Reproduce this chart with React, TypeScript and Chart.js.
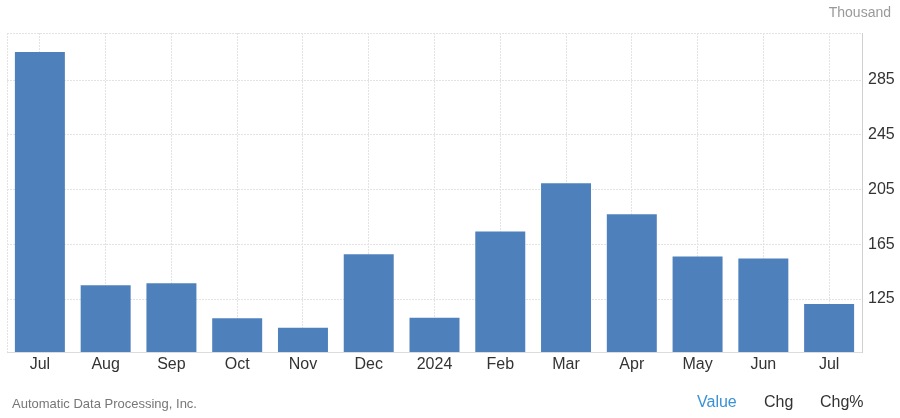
import React, { useEffect, useRef } from "react";
import { Chart, registerables } from "chart.js";

Chart.register(...registerables);

const categories = ["Jul", "Aug", "Sep", "Oct", "Nov", "Dec", "2024", "Feb", "Mar", "Apr", "May", "Jun", "Jul"];
const values = [305.5, 135, 136.5, 111, 104, 157.8, 111.4, 174.3, 209.7, 187, 156.1, 154.6, 121.4];
const yTicks = [125, 165, 205, 245, 285];
const yMin = 86.3;
const yMax = 319.4;

const gridColor = "#e3e3e3";

const edgePlugin = {
  id: "edgeLines",
  beforeDatasetsDraw(chart: any) {
    const { ctx, chartArea } = chart;
    ctx.save();
    ctx.strokeStyle = gridColor;
    ctx.lineWidth = 1;
    ctx.setLineDash([2, 1]);
    ctx.beginPath();
    ctx.moveTo(chartArea.left + 0.5, chartArea.top);
    ctx.lineTo(chartArea.left + 0.5, chartArea.bottom);
    ctx.stroke();
    ctx.restore();
  },
};

export default function App() {
  const ref = useRef<HTMLCanvasElement | null>(null);
  useEffect(() => {
    document.body.style.margin = "0";
    const chart = new Chart(ref.current as HTMLCanvasElement, {
      type: "bar",
      data: {
        labels: categories,
        datasets: [
          {
            data: values,
            backgroundColor: "#4e80bc",
            borderWidth: 0,
            barPercentage: 0.76,
            categoryPercentage: 1,
          },
        ],
      },
      plugins: [edgePlugin],
      options: {
        animation: false,
        responsive: false,
        maintainAspectRatio: false,
        layout: { padding: { top: 33, left: 7, right: 0, bottom: 0 } },
        plugins: { legend: { display: false }, tooltip: { enabled: false } },
        scales: {
          x: {
            grid: { offset: false, color: gridColor, drawTicks: false } as any,
            border: { display: true, color: "#dcdcdc", dash: [2, 1] } as any,
            ticks: {
              color: "#333",
              font: { family: "Liberation Sans, Arial", size: 16 },
              padding: 3,
              maxRotation: 0,
              autoSkip: false,
            },
            afterFit(scale: any) {
              scale.height = 66;
            },
          },
          y: {
            position: "right",
            min: yMin,
            max: yMax,
            afterBuildTicks(scale: any) {
              scale.ticks = [...yTicks, yMax].map((v) => ({ value: v }));
            },
            afterFit(scale: any) {
              scale.width = 38;
            },
            grid: { color: gridColor, drawTicks: false },
            border: { display: true, color: "#d0d0d0", dash: [2, 1] } as any,
            ticks: {
              color: "#333",
              font: { family: "Liberation Sans, Arial", size: 16 },
              padding: 6,
              callback: (v: any) => (yTicks.includes(Number(v)) ? String(v) : ""),
            },
          },
        },
      },
    });
    return () => chart.destroy();
  }, []);

  const font = "'Liberation Sans', Arial, sans-serif";
  return (
    <div style={{ position: "relative", width: 900, height: 418, fontFamily: font, background: "#fff", overflow: "hidden" }}>
      <canvas ref={ref} width={900} height={418} style={{ position: "absolute", left: 0, top: 0, width: 900, height: 418 }} />
      <div style={{ position: "absolute", right: 9, top: 4, fontSize: 14, color: "#999" }}>Thousand</div>
      <div style={{ position: "absolute", left: 12, top: 396, fontSize: 13, color: "#777" }}>Automatic Data Processing, Inc.</div>
      <div style={{ position: "absolute", left: 697, top: 393, fontSize: 16, color: "#3a91d6" }}>Value</div>
      <div style={{ position: "absolute", left: 764, top: 393, fontSize: 16, color: "#333" }}>Chg</div>
      <div style={{ position: "absolute", left: 820, top: 393, fontSize: 16, color: "#333" }}>Chg%</div>
    </div>
  );
}
